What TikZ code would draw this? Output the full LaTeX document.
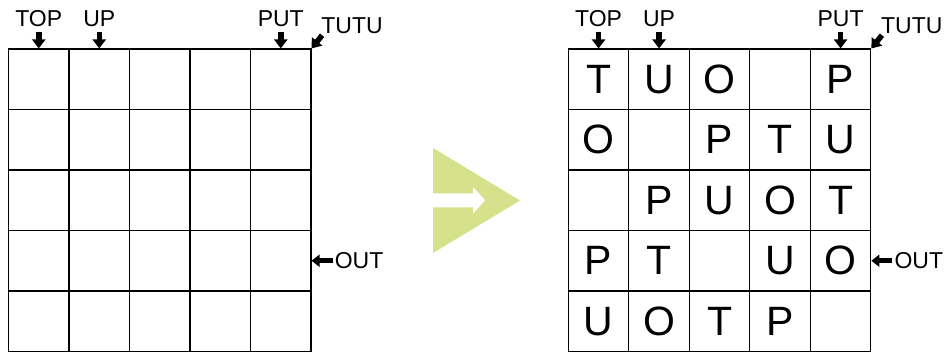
\documentclass[tikz,border=0pt]{standalone}
\usepackage{fontspec}
\setmainfont{Liberation Sans}
\usepackage{xcolor}
\usetikzlibrary{positioning,arrows.meta}

\definecolor{limegreen}{RGB}{213,226,139}
\tikzset{
  cell/.style={draw, line width=1.1pt, minimum size=60.5pt, inner sep=0pt,
    font=\fontsize{40}{40}\selectfont},
  lab/.style={inner sep=0pt, font=\fontsize{23}{23}\selectfont},
  blk/.style={line width=5.5pt, -{Triangle[width=13pt,length=9pt]}},
  blks/.style={line width=5pt, -{Triangle[width=12pt,length=8pt]}}
}

\begin{document}
\begin{tikzpicture}[x=1pt,y=-1pt]
  \useasboundingbox (0,0) rectangle (949,351);
  % empty grid and filled grid
  \foreach \g/\x in {L/8.5,R/568.3} {
    \foreach \r in {1,...,5}
      \foreach \c in {1,...,5}
        \node[cell] (\g-\r-\c) at ({\x+30.25+60.5*(\c-1)},{79.25+60.5*(\r-1)}) {};
    \node[lab, above=22pt of \g-1-1.north] (\g top) {TOP};
    \node[lab, above=22pt of \g-1-2.north] (\g up) {UP};
    \node[lab, above=22pt of \g-1-5.north] (\g put) {PUT};
    \node[lab] (\g tutu) at ({\x+343.5},26) {TUTU};
    \node[lab, right=23pt of \g-4-5.east] (\g out) {OUT};
    \draw[blk, shorten <=6pt] (\g top.south) -- (\g-1-1.north);
    \draw[blk, shorten <=6pt] (\g up.south) -- (\g-1-2.north);
    \draw[blk, shorten <=6pt] (\g put.south) -- (\g-1-5.north);
    \draw[blk] ([shift={(1,1)}]\g tutu.south west) -- (\g-1-5.north east);
    \draw[blks, shorten <=2pt] (\g out.west) -- (\g-4-5.east);
  }
  \foreach \r/\row in {1/{T,U,O,{},P}, 2/{O,{},P,T,U}, 3/{{},P,U,O,T},
                       4/{P,T,{},U,O}, 5/{U,O,T,P,{}}}
    \foreach \t [count=\c] in \row
      \node[font=\fontsize{41}{41}\selectfont] at (R-\r-\c) {\t};
  % big green arrow
  \fill[limegreen] (433,148) -- (520,200.5) -- (433,253) -- cycle;
  \fill[white] (433,193.3) -- (473,193.3) -- (473,187) -- (485,200.3)
    -- (473,213.7) -- (473,207.3) -- (433,207.3) -- cycle;
\end{tikzpicture}
\end{document}
